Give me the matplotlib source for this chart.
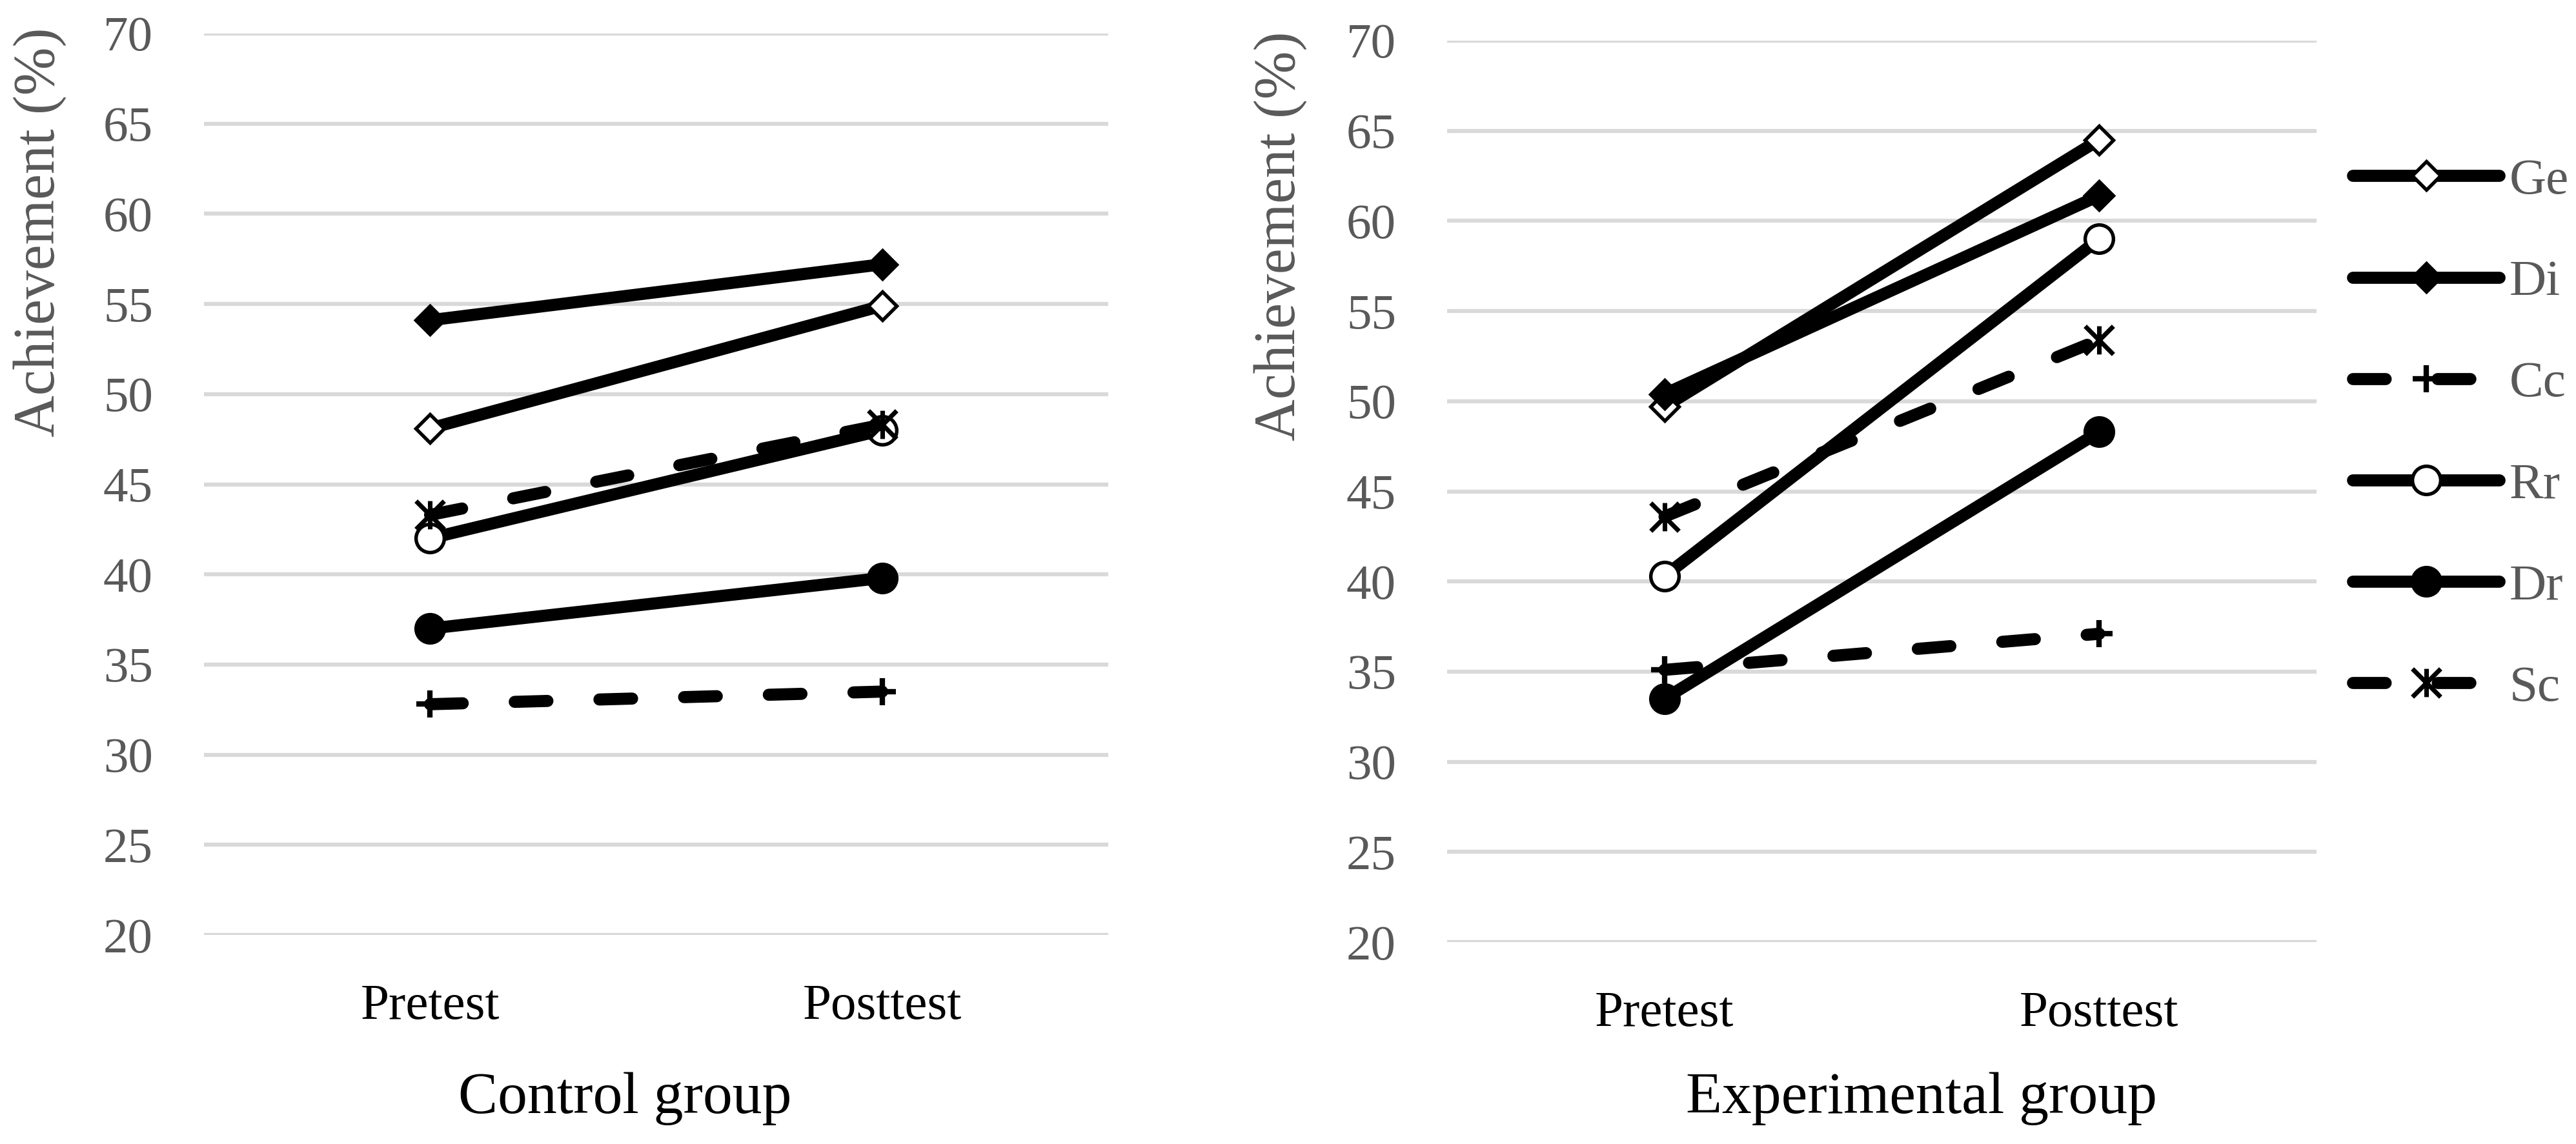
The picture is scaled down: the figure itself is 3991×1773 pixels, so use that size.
import matplotlib
matplotlib.use("Agg")
import matplotlib.pyplot as plt
from matplotlib.path import Path

plt.rcParams['font.family'] = ['Liberation Serif', 'DejaVu Serif']

# ---------- data ----------
phases = ["Pretest", "Posttest"]
series_names = ["Ge", "Di", "Cc", "Rr", "Dr", "Sc"]

control_ge = [48.1, 54.9]
control_di = [54.1, 57.2]
control_cc = [32.8, 33.5]
control_rr = [42.0, 48.0]
control_dr = [37.0, 39.8]
control_sc = [43.3, 48.3]

exper_ge = [49.7, 64.5]
exper_di = [50.4, 61.4]
exper_cc = [35.1, 37.1]
exper_rr = [40.3, 59.0]
exper_dr = [33.5, 48.3]
exper_sc = [43.6, 53.4]

y_ticks = [20, 25, 30, 35, 40, 45, 50, 55, 60, 65, 70]

# asterisk marker: vertical bar + two diagonals (Excel "star")
star = Path(
    [(0, -1), (0, 1), (-1, -1), (1, 1), (-1, 1), (1, -1)],
    [Path.MOVETO, Path.LINETO, Path.MOVETO, Path.LINETO, Path.MOVETO, Path.LINETO],
)

LW = 4.5
DASH = (2.7, 4.3)
styles = {
    "Ge": dict(marker="D", ms=7.5, mfc="white", mew=1.3, ls="-"),
    "Di": dict(marker="D", ms=7.5, mfc="black", mew=1.3, ls="-"),
    "Cc": dict(marker="+", ms=10, mfc="black", mew=2.0, ls=(0, DASH)),
    "Rr": dict(marker="o", ms=10.5, mfc="white", mew=1.3, ls="-"),
    "Dr": dict(marker="o", ms=10.5, mfc="black", mew=1.3, ls="-"),
    "Sc": dict(marker=star, ms=10.5, mfc="none", mew=1.7, ls=(0, DASH)),
}

GRAY = "#595959"


def draw_panel(ax, values):
    x = range(len(phases))
    for name, vals in zip(series_names, values):
        st = styles[name]
        ax.plot(
            x, vals,
            color="black",
            linewidth=LW,
            linestyle=st["ls"],
            dash_capstyle="round",
            solid_capstyle="round",
            marker=st["marker"],
            markersize=st["ms"],
            markerfacecolor=st["mfc"],
            markeredgecolor="black",
            markeredgewidth=st["mew"],
            label=name,
        )

    ax.set_xlim(-0.5, 1.5)
    ax.set_ylim(20, 70)
    ax.set_yticks(y_ticks)
    ax.set_xticks(list(x))
    ax.set_xticklabels(phases)
    ax.grid(axis="y", color="#D9D9D9", linewidth=1.5)
    ax.set_axisbelow(True)
    for s in ax.spines.values():
        s.set_visible(False)
    ax.tick_params(axis="y", length=0, pad=19, labelsize=18.5, labelcolor=GRAY)
    ax.tick_params(axis="x", length=0, pad=18, labelsize=19, labelcolor="black")


fig = plt.figure(figsize=(3991 / 300, 1773 / 300), dpi=300)

ax1 = fig.add_axes([0.0792, 0.1827, 0.3510, 0.7880])
ax2 = fig.add_axes([0.5618, 0.1765, 0.3375, 0.7880])

draw_panel(ax1, [control_ge, control_di, control_cc, control_rr, control_dr, control_sc])
draw_panel(ax2, [exper_ge, exper_di, exper_cc, exper_rr, exper_dr, exper_sc])

# y axis titles (sit high, as in the original)
fig.text(0.0153, 0.797, "Achievement (%)", rotation=90, ha="center", va="center",
         fontsize=21.5, color=GRAY)
fig.text(0.4969, 0.7936, "Achievement (%)", rotation=90, ha="center", va="center",
         fontsize=21.5, color=GRAY)

# group titles
fig.text(0.2425, 0.0271, "Control group", ha="center", va="baseline", fontsize=22)
fig.text(0.7459, 0.0271, "Experimental group", ha="center", va="baseline", fontsize=22)

# legend
leg = ax2.legend(
    loc="center left",
    bbox_to_anchor=(3645 / 3991, 0.620),
    bbox_transform=fig.transFigure,
    frameon=False,
    fontsize=19,
    handlelength=2.87,
    handletextpad=0.2,
    labelspacing=1.07,
    borderpad=0,
    borderaxespad=0,
    numpoints=1,
)
for t in leg.get_texts():
    t.set_color(GRAY)

fig.savefig("out.png", dpi=300)
